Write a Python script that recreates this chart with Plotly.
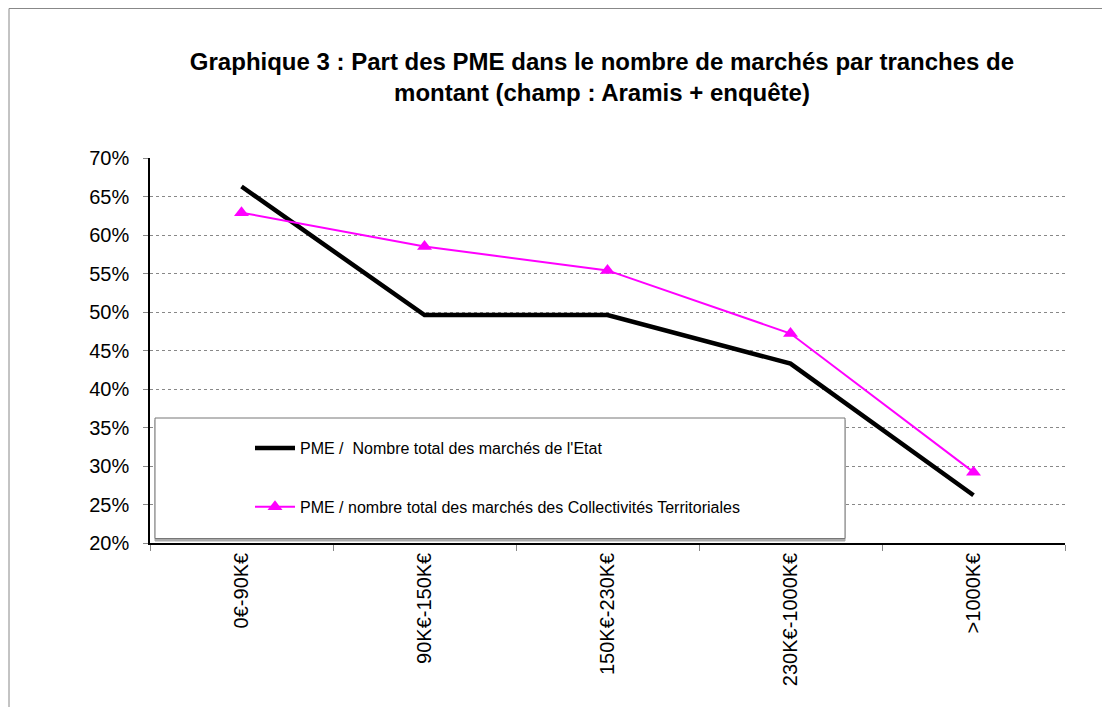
import plotly.graph_objects as go

categories = ["0€-90K€", "90K€-150K€", "150K€-230K€", "230K€-1000K€", ">1000K€"]
etat = [0.663, 0.496, 0.496, 0.433, 0.262]
collectivites = [0.629, 0.585, 0.554, 0.472, 0.292]
y_ticks = [0.20, 0.25, 0.30, 0.35, 0.40, 0.45, 0.50, 0.55, 0.60, 0.65, 0.70]
name_etat = "PME /  Nombre total des marchés de l'Etat"
name_coll = "PME / nombre total des marchés des Collectivités Territoriales"
title = "Graphique 3 : Part des PME dans le nombre de marchés par tranches de<br>montant (champ : Aramis + enquête)"

FONT = "Liberation Sans, Arial, sans-serif"

fig = go.Figure()
fig.add_trace(go.Scatter(
    x=categories, y=etat, mode="lines", name=name_etat,
    line=dict(color="black", width=4.5), legendgroup="a"))
fig.add_trace(go.Scatter(
    x=categories, y=collectivites, mode="lines+markers", name=name_coll,
    line=dict(color="#FF00FF", width=2),
    marker=dict(symbol="triangle-up", size=13, color="#FF00FF"), legendgroup="b"))

OFF = 8  # page body margin
W, H = 1102, 699
L, R, T, B = 142, 45, 150, 164
pw, ph = W - L - R, H - T - B

def px(x):  # page x -> paper
    return (x - OFF - L) / pw

def py(y):  # page y -> paper
    return (H - B - (y - OFF)) / ph

shapes = [
    # outer frame
    dict(type="rect", xref="paper", yref="paper", x0=px(9), x1=px(1300), y0=py(900), y1=py(8.5),
         line=dict(color="#888888", width=1), fillcolor="rgba(0,0,0,0)", layer="below"),
    # legend shadow (bottom)
    dict(type="rect", xref="paper", yref="paper", x0=px(155), x1=px(845), y0=py(541), y1=py(420),
         line=dict(color="#aaaaaa", width=1), fillcolor="#aaaaaa", layer="above"),
    # legend box
    dict(type="rect", xref="paper", yref="paper", x0=px(155), x1=px(845), y0=py(538.5), y1=py(418),
         line=dict(color="#777777", width=1), fillcolor="white", layer="above"),
]

fig.update_layout(
    width=W, height=H,
    margin=dict(l=L, r=R, t=T, b=B),
    paper_bgcolor="white", plot_bgcolor="white",
    font=dict(family=FONT, color="black"),
    title=dict(text=title, x=(602 - OFF) / W, xanchor="center", y=1 - 62 / H, yanchor="top",
               yref="container", font=dict(family=FONT, size=24, color="black", weight="bold")),
    xaxis=dict(
        type="category", tickangle=-90, tickson="boundaries", ticks="outside", ticklen=6,
        tickcolor="#888888", showline=True, linecolor="black", linewidth=1.5,
        showgrid=False, tickfont=dict(size=20), range=[-0.5, 4.5]),
    yaxis=dict(
        range=[0.20, 0.70], tickvals=y_ticks, tickformat=".0%", ticks="outside", ticklen=5,
        tickcolor="#888888", showline=True, linecolor="black", linewidth=1.5,
        showgrid=True, gridcolor="#888888", griddash="dot", gridwidth=1,
        tickfont=dict(size=20), zeroline=False, ticklabelstandoff=10),
    showlegend=True,
    legend=dict(
        x=px(250), y=py(431), xanchor="left", yanchor="top",
        bgcolor="rgba(0,0,0,0)", borderwidth=0,
        font=dict(size=16, family=FONT), traceorder="grouped", tracegroupgap=35,
        itemwidth=40),
    shapes=shapes,
)

fig.write_html("out.html")
